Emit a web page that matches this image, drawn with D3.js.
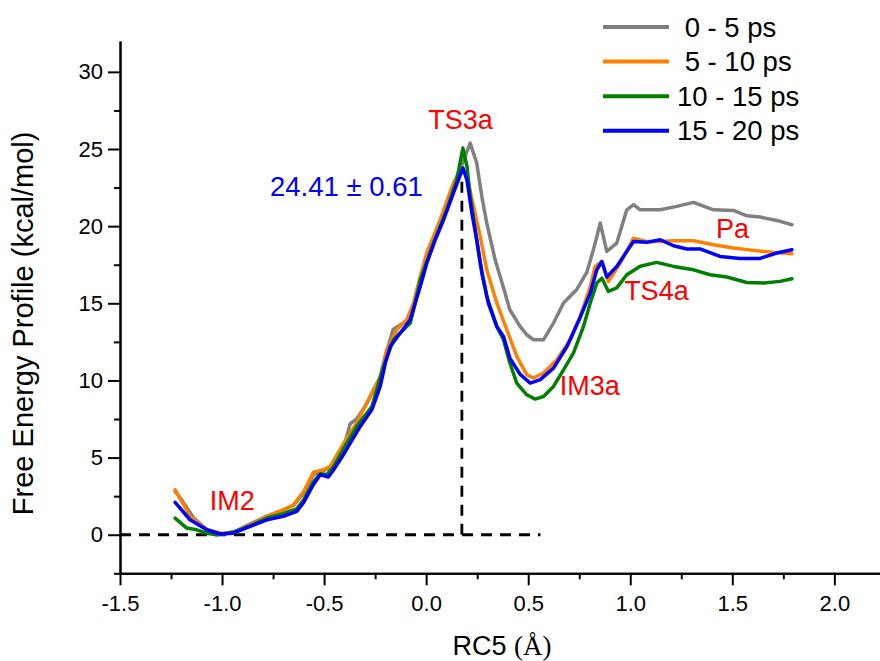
<!DOCTYPE html>
<html>
<head>
<meta charset="utf-8">
<script src="https://cdn.jsdelivr.net/npm/d3@7"></script>
<style>
  html, body { margin: 0; padding: 0; background: #fff; }
  svg text { font-family: "Liberation Sans", Arial, sans-serif; }
  .axis path, .axis line { stroke: #000; stroke-width: 2; }
  .axis text { font-size: 22px; fill: #000; }
  .serie { fill: none; stroke-width: 3.5; stroke-linejoin: round; stroke-linecap: round; }
  .tracejado { stroke: #000; stroke-width: 2.8; stroke-dasharray: 11 8; fill: none; }
  .rotulo { font-size: 27px; fill: #ff0000; }
</style>
</head>
<body>
<svg id="grafico" width="880" height="661"></svg>
<script>
// Dados (RC5 em Å, energia em kcal/mol)
const serie0a5 = [[-1.23,2.8],[-1.2,2.3],[-1.14,1.1],[-1.075,0.35],[-1.0,0.05],[-0.93,0.25],[-0.862,0.7],[-0.78,1.2],[-0.7,1.6],[-0.65,1.9],[-0.6,2.7],[-0.552,3.9],[-0.503,4.15],[-0.47,4.35],[-0.405,5.6],[-0.372,7.2],[-0.34,7.5],[-0.291,8.5],[-0.225,10.2],[-0.193,11.9],[-0.162,13.3],[-0.127,13.6],[-0.078,14.0],[-0.054,15.0],[-0.029,16.6],[0.003,18.0],[0.069,20.3],[0.134,22.6],[0.19,24.5],[0.216,25.38],[0.248,24.08],[0.273,21.9],[0.297,20.2],[0.338,17.82],[0.379,16.0],[0.41,14.58],[0.46,13.5],[0.493,12.96],[0.525,12.64],[0.575,12.64],[0.624,13.72],[0.673,15.02],[0.738,15.9],[0.787,17.0],[0.82,18.5],[0.853,20.2],[0.885,18.36],[0.934,18.9],[0.983,21.06],[1.016,21.39],[1.049,21.06],[1.147,21.06],[1.228,21.28],[1.31,21.54],[1.408,21.06],[1.506,21.02],[1.571,20.67],[1.636,20.59],[1.718,20.37],[1.792,20.09]];

const serie5a10 = [[-1.23,2.92],[-1.157,1.19],[-1.075,0.32],[-0.995,0.08],[-0.93,0.2],[-0.862,0.65],[-0.78,1.19],[-0.699,1.62],[-0.65,1.94],[-0.6,2.8],[-0.552,4.05],[-0.503,4.21],[-0.47,4.43],[-0.405,5.9],[-0.34,7.24],[-0.291,8.54],[-0.225,10.26],[-0.193,11.99],[-0.144,13.29],[-0.095,13.93],[-0.062,15.02],[-0.029,16.74],[0.003,18.26],[0.069,20.42],[0.134,22.8],[0.175,23.87],[0.2,23.22],[0.232,21.28],[0.265,19.33],[0.297,17.17],[0.346,15.02],[0.395,13.29],[0.444,11.56],[0.493,10.37],[0.525,10.16],[0.575,10.48],[0.64,11.34],[0.706,12.64],[0.755,14.15],[0.804,16.09],[0.828,17.39],[0.861,17.71],[0.893,16.42],[0.951,17.6],[1.016,19.22],[1.081,19.0],[1.147,19.0],[1.212,19.05],[1.31,19.05],[1.408,18.8],[1.506,18.58],[1.604,18.43],[1.702,18.3],[1.792,18.21]];

const serie10a15 = [[-1.23,1.08],[-1.173,0.43],[-1.124,0.32],[-1.075,0.1],[-1.026,0.0],[-0.946,0.15],[-0.862,0.58],[-0.78,1.08],[-0.7,1.36],[-0.634,1.68],[-0.6,2.27],[-0.553,3.43],[-0.519,3.95],[-0.486,3.9],[-0.454,4.4],[-0.405,5.57],[-0.34,7.02],[-0.266,8.3],[-0.209,10.9],[-0.16,12.64],[-0.078,13.72],[-0.054,15.0],[-0.029,16.5],[0.036,18.9],[0.101,21.06],[0.15,23.0],[0.18,25.06],[0.2,23.87],[0.216,21.92],[0.24,19.77],[0.265,17.6],[0.297,15.44],[0.346,13.5],[0.379,12.64],[0.41,11.13],[0.444,9.83],[0.493,9.07],[0.534,8.79],[0.575,8.96],[0.624,9.61],[0.673,10.69],[0.722,11.78],[0.771,13.5],[0.804,15.02],[0.836,16.31],[0.861,16.63],[0.893,15.77],[0.934,16.0],[0.983,16.85],[1.049,17.4],[1.13,17.65],[1.212,17.39],[1.31,17.17],[1.391,16.85],[1.473,16.7],[1.571,16.35],[1.653,16.31],[1.734,16.42],[1.792,16.59]];

const serie15a20 = [[-1.23,2.1],[-1.157,0.97],[-1.075,0.32],[-1.01,0.05],[-0.946,0.1],[-0.862,0.54],[-0.78,0.97],[-0.7,1.19],[-0.634,1.51],[-0.6,2.1],[-0.553,3.24],[-0.519,3.89],[-0.479,3.74],[-0.454,4.2],[-0.405,5.2],[-0.372,5.94],[-0.323,7.02],[-0.266,8.1],[-0.225,9.61],[-0.2,11.13],[-0.176,12.2],[-0.127,13.07],[-0.078,13.93],[-0.054,15.0],[-0.029,16.09],[0.003,17.6],[0.044,19.1],[0.085,20.4],[0.134,22.15],[0.18,23.77],[0.2,23.0],[0.224,20.85],[0.248,19.1],[0.273,16.96],[0.305,15.0],[0.346,13.5],[0.379,12.85],[0.41,11.45],[0.46,10.4],[0.51,9.83],[0.559,10.05],[0.624,10.8],[0.69,12.2],[0.755,14.1],[0.804,15.66],[0.836,17.17],[0.861,17.71],[0.885,16.7],[0.934,17.39],[0.99,18.5],[1.016,19.0],[1.081,18.95],[1.147,19.12],[1.212,18.73],[1.277,18.52],[1.342,18.52],[1.44,18.04],[1.538,17.91],[1.636,17.91],[1.718,18.26],[1.792,18.47]];

const nomesSeries = [" 0 - 5 ps", " 5 - 10 ps", "10 - 15 ps", "15 - 20 ps"];
const coresSeries = ["#808080", "#ff8000", "#008000", "#0000ff"];

const ticksX = [-1.5, -1.0, -0.5, 0.0, 0.5, 1.0, 1.5, 2.0];
const ticksXMenores = [-1.25, -0.75, -0.25, 0.25, 0.75, 1.25, 1.75];
const ticksY = [0, 5, 10, 15, 20, 25, 30];
const ticksYMenores = [-2.5, 2.5, 7.5, 12.5, 17.5, 22.5, 27.5];

// Rótulos dos estados e barreira
const rotulos = [
    {texto: "TS3a", x: 0.01, y: 26.3},
    {texto: "IM2", x: -1.06, y: 1.58},
    {texto: "IM3a", x: 0.655, y: 9.05},
    {texto: "TS4a", x: 0.97, y: 15.2},
    {texto: "Pa", x: 1.42, y: 19.2}
];
const barreira = {texto: "24.41 \u00b1 0.61", x: -0.765, y: 21.95};
const posicaoTS = {x: 0.175, y: 23.5};
const fimLinhaZero = 0.56;

const svg = d3.select("#grafico");

// Escalas
const xScale = d3.scaleLinear().domain([-1.5, 2.23]).range([120, 881.3]);
const yScale = d3.scaleLinear().domain([-2.5, 32]).range([573.3, 41]);

// Eixos (ticks maiores e menores)
svg.append("g")
    .attr("class", "axis")
    .attr("transform", `translate(0,${yScale(-2.5)})`)
    .call(d3.axisBottom(xScale).tickValues(ticksXMenores).tickSize(6).tickSizeOuter(0).tickFormat(""));

svg.append("g")
    .attr("class", "axis")
    .attr("transform", `translate(0,${yScale(-2.5)})`)
    .call(d3.axisBottom(xScale).tickValues(ticksX).tickSize(12).tickSizeOuter(0).tickPadding(10).tickFormat(d3.format(".1f")));

svg.append("g")
    .attr("class", "axis")
    .attr("transform", `translate(${xScale(-1.5)},0)`)
    .call(d3.axisLeft(yScale).tickValues(ticksYMenores).tickSize(6).tickSizeOuter(0).tickFormat(""));

svg.append("g")
    .attr("class", "axis")
    .attr("transform", `translate(${xScale(-1.5)},0)`)
    .call(d3.axisLeft(yScale).tickValues(ticksY).tickSize(12).tickSizeOuter(0).tickPadding(5));

svg.selectAll(".axis .tick text").attr("fill", "#000");
// sinal de menos com hífen como no original
svg.selectAll(".axis .tick text").text(function() { return this.textContent.replace("\u2212", "-"); });

// Títulos dos eixos
svg.append("text")
    .attr("transform", `translate(33,${yScale(13.7)}) rotate(-90)`)
    .attr("text-anchor", "middle")
    .style("font-size", "29px")
    .text("Free Energy Profile (kcal/mol)");

const tituloX = svg.append("text")
    .attr("x", 502)
    .attr("y", 655)
    .attr("text-anchor", "middle")
    .style("font-size", "27px");
tituloX.append("tspan").text("RC5 ");
tituloX.append("tspan").style("font-family", "'Liberation Serif', 'Times New Roman', serif").text("(\u00c5)");

// Linhas tracejadas
svg.append("line")
    .attr("class", "tracejado")
    .attr("x1", xScale(-1.5)).attr("x2", xScale(fimLinhaZero))
    .attr("y1", yScale(0)).attr("y2", yScale(0));

svg.append("line")
    .attr("class", "tracejado")
    .attr("x1", xScale(posicaoTS.x)).attr("x2", xScale(posicaoTS.x))
    .attr("y1", yScale(0)).attr("y2", yScale(posicaoTS.y));

// Curvas
const line = d3.line()
    .x(d => xScale(d[0]))
    .y(d => yScale(d[1]));

const series = [serie0a5, serie5a10, serie10a15, serie15a20];
series.forEach((s, i) => {
    svg.append("path")
        .datum(s)
        .attr("class", "serie")
        .attr("d", line)
        .style("stroke", coresSeries[i]);
});

// Legenda
const legenda = svg.append("g").attr("transform", "translate(603,27)");
nomesSeries.forEach((nome, i) => {
    const g = legenda.append("g").attr("transform", `translate(0,${i * 34.6})`);
    g.append("line")
        .attr("x1", 0).attr("x2", 66)
        .attr("stroke", coresSeries[i]).attr("stroke-width", 4);
    g.append("text")
        .attr("x", 74).attr("y", 9.5)
        .style("font-size", "27.5px")
        .style("white-space", "pre")
        .attr("xml:space", "preserve")
        .text(nome);
});

// Anotações
rotulos.forEach(r => {
    svg.append("text")
        .attr("class", "rotulo")
        .attr("x", xScale(r.x))
        .attr("y", yScale(r.y))
        .text(r.texto);
});

svg.append("text")
    .attr("x", xScale(barreira.x))
    .attr("y", yScale(barreira.y))
    .style("font-size", "27.5px")
    .style("fill", "#0000ff")
    .text(barreira.texto);
</script>
</body>
</html>
